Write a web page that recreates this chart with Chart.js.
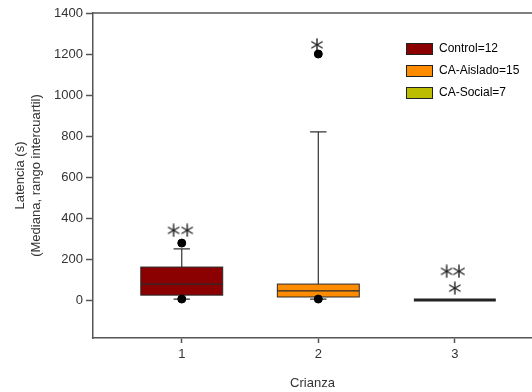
<!DOCTYPE html>
<html lang="es">
<head>
<meta charset="UTF-8">
<title>Latencia por crianza</title>
<script src="https://cdn.jsdelivr.net/npm/chart.js"></script>
<style>
  body { margin: 0; background: #fff; }
  canvas { display: block; }
</style>
</head>
<body>
<canvas id="boxChart" width="532" height="392"></canvas>
<script>
// groups on the x axis (Crianza)
const groups = [1, 2, 3];
const groupNames = ['Control=12', 'CA-Aislado=15', 'CA-Social=7'];
const groupColors = ['#8b0000', '#ff8c00', '#bdbd00'];

// box plot summary, latency in seconds
const whiskerLow = [5, 5, 0];
const q1 = [24, 15, 0];
const median = [78, 45, 0];
const q3 = [161, 78, 0];
const whiskerHigh = [250, 820, 0];

// outliers
const outlierX = [1, 1, 2, 2];
const outlierY = [278, 5, 1200, 5];

// significance marks (asterisks)
const starX = [0.94, 1.04, 1.99, 2.94, 3.03, 3.0];
const starY = [340, 340, 1245, 140, 140, 58];

const yTicks = [0, 200, 400, 600, 800, 1000, 1200, 1400];

const FONT = 'Liberation Sans, Arial, sans-serif';

// small asterisk image used as point style
function makeStar() {
    const c = document.createElement('canvas');
    c.width = 14; c.height = 14;
    const g = c.getContext('2d');
    g.strokeStyle = '#222';
    g.lineWidth = 1.4;
    g.lineCap = 'round';
    for (let k = 0; k < 3; k++) {
        const a = Math.PI / 2 + k * Math.PI / 3;
        g.beginPath();
        g.moveTo(7 + Math.cos(a) * 6, 7 - Math.sin(a) * 6);
        g.lineTo(7 - Math.cos(a) * 6, 7 + Math.sin(a) * 6);
        g.stroke();
    }
    return c;
}

// draws boxes, whiskers and the top frame line
const boxPlotPlugin = {
    id: 'boxPlot',
    beforeDatasetsDraw(chart) {
        const ctx = chart.ctx;
        const xs = chart.scales.x, ys = chart.scales.y;
        const area = chart.chartArea;
        ctx.save();
        ctx.strokeStyle = '#555';
        ctx.lineWidth = 1.5;
        ctx.beginPath();
        ctx.moveTo(area.left, area.top);
        ctx.lineTo(area.right, area.top);
        ctx.stroke();

        groups.forEach((g, i) => {
            const xl = xs.getPixelForValue(g - 0.3);
            const xr = xs.getPixelForValue(g + 0.3);
            const xc = xs.getPixelForValue(g);
            const cl = xs.getPixelForValue(g - 0.06);
            const cr = xs.getPixelForValue(g + 0.06);
            const yq1 = ys.getPixelForValue(q1[i]);
            const yq3 = ys.getPixelForValue(q3[i]);
            const ymed = ys.getPixelForValue(median[i]);
            const ylo = ys.getPixelForValue(whiskerLow[i]);
            const yhi = ys.getPixelForValue(whiskerHigh[i]);

            if (q3[i] === q1[i]) {
                // collapsed box: just a thick line
                ctx.strokeStyle = '#222';
                ctx.lineWidth = 3;
                ctx.beginPath();
                ctx.moveTo(xl, ymed);
                ctx.lineTo(xr, ymed);
                ctx.stroke();
                return;
            }

            // whiskers
            ctx.strokeStyle = '#333';
            ctx.lineWidth = 1.2;
            ctx.beginPath();
            ctx.moveTo(xc, yq3); ctx.lineTo(xc, yhi);
            ctx.moveTo(cl, yhi); ctx.lineTo(cr, yhi);
            ctx.moveTo(xc, yq1); ctx.lineTo(xc, ylo);
            ctx.moveTo(cl, ylo); ctx.lineTo(cr, ylo);
            ctx.stroke();

            // box
            ctx.fillStyle = groupColors[i];
            ctx.fillRect(xl, yq3, xr - xl, yq1 - yq3);
            ctx.strokeStyle = '#2a2a2a';
            ctx.lineWidth = 1;
            ctx.strokeRect(xl, yq3, xr - xl, yq1 - yq3);

            // median
            ctx.lineWidth = 1.2;
            ctx.beginPath();
            ctx.moveTo(xl, ymed);
            ctx.lineTo(xr, ymed);
            ctx.stroke();
        });
        ctx.restore();
    }
};

// legend inside the plot, top right
const boxLegendPlugin = {
    id: 'boxLegend',
    afterDraw(chart) {
        const ctx = chart.ctx;
        ctx.save();
        ctx.font = '12px ' + FONT;
        ctx.textBaseline = 'middle';
        groupNames.forEach((name, i) => {
            const cy = 49 + i * 22;
            ctx.fillStyle = groupColors[i];
            ctx.fillRect(406, cy - 6, 27, 12);
            ctx.strokeStyle = '#222';
            ctx.lineWidth = 1;
            ctx.strokeRect(406.5, cy - 5.5, 26, 11);
            ctx.fillStyle = '#000';
            ctx.fillText(name, 439, cy);
        });
        ctx.restore();
    }
};

const ctx = document.getElementById('boxChart').getContext('2d');
new Chart(ctx, {
    type: 'scatter',
    data: {
        datasets: [
            {
                label: 'outliers',
                data: outlierX.map((x, i) => ({ x: x, y: outlierY[i] })),
                pointRadius: 4,
                backgroundColor: '#000',
                borderColor: '#000'
            },
            {
                label: 'sig',
                data: starX.map((x, i) => ({ x: x, y: starY[i] })),
                pointStyle: makeStar(),
                pointRadius: 7
            }
        ]
    },
    options: {
        responsive: false,
        animation: false,
        layout: {
            autoPadding: false,
            padding: { left: 0, top: 13, right: 0, bottom: 0 }
        },
        plugins: {
            legend: { display: false },
            tooltip: { enabled: false }
        },
        scales: {
            x: {
                type: 'linear',
                min: 0.35,
                max: 3.565,
                afterBuildTicks: s => { s.ticks = groups.map(v => ({ value: v })); },
                afterFit: s => { s.height = 54; },
                grid: { drawOnChartArea: false, drawTicks: true, tickLength: 5, color: '#555', tickWidth: 1.5 },
                border: { color: '#555', width: 1.5 },
                ticks: { font: { family: FONT, size: 13 }, color: '#333', padding: 4, callback: v => String(v) },
                title: { display: true, text: 'Crianza', font: { family: FONT, size: 13 }, color: '#333', padding: { top: 0, bottom: 1 } }
            },
            y: {
                min: -185,
                max: 1400,
                afterBuildTicks: s => { s.ticks = yTicks.map(v => ({ value: v })); },
                afterFit: s => { s.width = 93; },
                grid: { drawOnChartArea: false, drawTicks: true, tickLength: 7, color: '#555', tickWidth: 1.5 },
                border: { color: '#555', width: 1.5 },
                ticks: { font: { family: FONT, size: 13 }, color: '#333', padding: 3, callback: v => String(v) },
                title: {
                    display: true,
                    text: ['Latencia (s)', '(Mediana, rango intercuartil)'],
                    font: { family: FONT, size: 13 },
                    color: '#333',
                    padding: { top: 13, bottom: 0 }
                }
            }
        }
    },
    plugins: [boxPlotPlugin, boxLegendPlugin]
});
</script>
</body>
</html>
